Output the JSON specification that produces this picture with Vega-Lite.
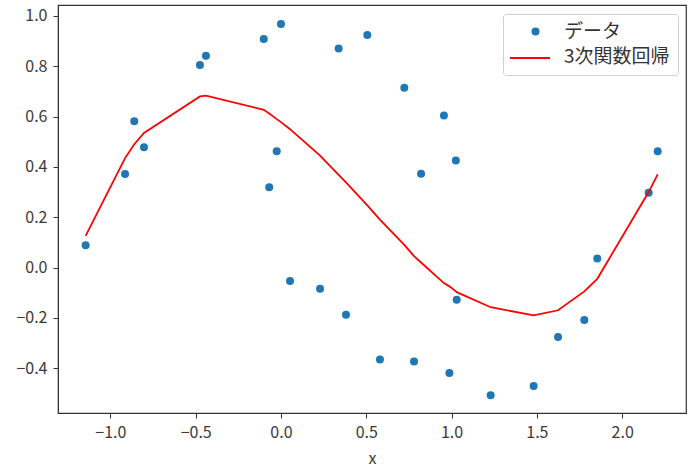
{
  "$schema": "https://vega.github.io/schema/vega-lite/v6.json",
  "autosize": "none",
  "width": 628,
  "height": 408,
  "padding": {"left": 58, "top": 5, "right": 11, "bottom": 60},
  "background": "white",
  "config": {
    "font": "Noto Sans CJK JP",
    "view": {"stroke": "#333", "strokeWidth": 1.2},
    "axis": {
      "grid": false,
      "domainColor": "#333",
      "tickColor": "#333",
      "tickSize": 5,
      "labelPadding": 6,
      "labelColor": "#3a3a3a",
      "labelFontSize": 16,
      "labelFont": "Noto Sans CJK JP",
      "titleFont": "Noto Sans CJK JP",
      "titleFontSize": 16,
      "titleFontWeight": "normal",
      "titleColor": "#3a3a3a",
      "titlePadding": 10
    }
  },
  "data": {
    "values": [
      {"x": -1.145, "y": 0.088, "fit": 0.126},
      {"x": -0.914, "y": 0.372, "fit": 0.435},
      {"x": -0.860, "y": 0.581, "fit": 0.49},
      {"x": -0.803, "y": 0.478, "fit": 0.535},
      {"x": -0.475, "y": 0.805, "fit": 0.68},
      {"x": -0.440, "y": 0.842, "fit": 0.683},
      {"x": -0.101, "y": 0.909, "fit": 0.627},
      {"x": -0.069, "y": 0.319, "fit": 0.612},
      {"x": -0.025, "y": 0.462, "fit": 0.59},
      {"x": 0.000, "y": 0.968, "fit": 0.578},
      {"x": 0.053, "y": -0.054, "fit": 0.55},
      {"x": 0.229, "y": -0.084, "fit": 0.445},
      {"x": 0.338, "y": 0.871, "fit": 0.368},
      {"x": 0.381, "y": -0.188, "fit": 0.338},
      {"x": 0.506, "y": 0.924, "fit": 0.247},
      {"x": 0.580, "y": -0.366, "fit": 0.19},
      {"x": 0.723, "y": 0.715, "fit": 0.09},
      {"x": 0.780, "y": -0.374, "fit": 0.045},
      {"x": 0.821, "y": 0.373, "fit": 0.02},
      {"x": 0.955, "y": 0.604, "fit": -0.062},
      {"x": 0.987, "y": -0.419, "fit": -0.075},
      {"x": 1.025, "y": 0.425, "fit": -0.095},
      {"x": 1.030, "y": -0.128, "fit": -0.098},
      {"x": 1.229, "y": -0.508, "fit": -0.158},
      {"x": 1.481, "y": -0.471, "fit": -0.19},
      {"x": 1.624, "y": -0.276, "fit": -0.17},
      {"x": 1.778, "y": -0.209, "fit": -0.095},
      {"x": 1.854, "y": 0.036, "fit": -0.045},
      {"x": 2.155, "y": 0.297, "fit": 0.3},
      {"x": 2.208, "y": 0.462, "fit": 0.37}
    ]
  },
  "layer": [
    {
      "mark": {"type": "point", "filled": true, "size": 64, "opacity": 1},
      "encoding": {
        "x": {
          "field": "x",
          "type": "quantitative",
          "scale": {"domain": [-1.307, 2.374], "nice": false, "zero": false},
          "axis": {"values": [-1, -0.5, 0, 0.5, 1, 1.5, 2], "format": ".1f", "title": "x"}
        },
        "y": {
          "field": "y",
          "type": "quantitative",
          "scale": {"domain": [-0.5785, 1.0437], "nice": false, "zero": false},
          "axis": {"values": [-0.4, -0.2, 0, 0.2, 0.4, 0.6, 0.8, 1.0], "format": ".1f", "title": null}
        },
        "color": {
          "datum": "データ",
          "type": "nominal",
          "scale": {"domain": ["データ", "3次関数回帰"], "range": ["#1f77b4", "transparent"]},
          "legend": {
            "title": null,
            "orient": "none",
            "legendX": 445,
            "legendY": 9,
            "zindex": 0,
            "padding": 8,
            "strokeColor": "#d0d0d0",
            "fillColor": "white",
            "cornerRadius": 3,
            "labelFontSize": 19,
            "labelColor": "#333",
            "labelFont": "Noto Sans CJK JP",
            "symbolType": "circle",
            "symbolSize": 64,
            "symbolOpacity": 1,
            "symbolOffset": 15,
            "rowPadding": 5,
            "labelOffset": 19
          }
        }
      }
    },
    {
      "mark": {"type": "line", "strokeWidth": 1.8},
      "encoding": {
        "x": {"field": "x", "type": "quantitative", "sort": "ascending"},
        "y": {"field": "fit", "type": "quantitative"},
        "order": {"field": "x", "type": "quantitative"},
        "stroke": {
          "datum": "3次関数回帰",
          "type": "nominal",
          "scale": {"domain": ["3次関数回帰"], "range": ["#ff0000"]},
          "legend": {
            "title": null,
            "orient": "none",
            "legendX": 451,
            "legendY": 32,
            "zindex": 1,
            "padding": 0,
            "symbolType": "stroke",
            "symbolSize": 1600,
            "symbolStrokeWidth": 2,
            "symbolOpacity": 1,
            "labelExpr": "''",
            "labelFontSize": 10
          }
        }
      }
    }
  ]
}
